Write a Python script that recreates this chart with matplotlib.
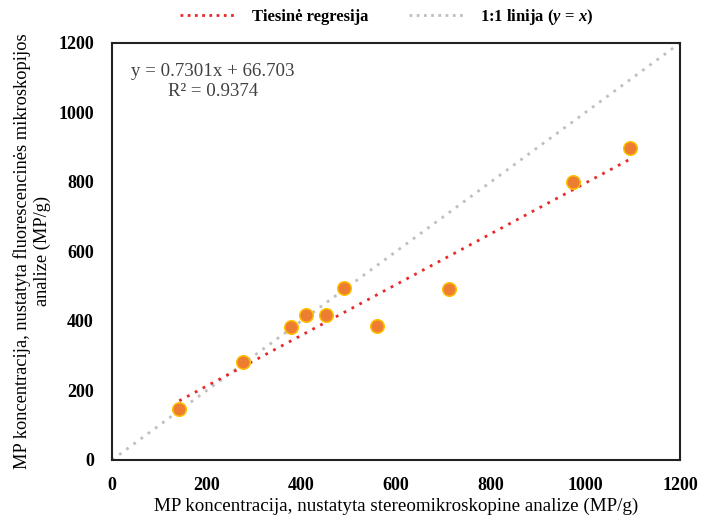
import numpy as np
import matplotlib
matplotlib.use("Agg")
import matplotlib.pyplot as plt
from matplotlib.lines import Line2D

plt.rcParams['font.family'] = ['Liberation Serif', 'DejaVu Serif']
plt.rcParams['mathtext.fontset'] = 'custom'
plt.rcParams['mathtext.it'] = 'Liberation Serif:italic:bold'
plt.rcParams['mathtext.rm'] = 'Liberation Serif:bold'

# Data (MP/g)
stereo = [142, 276, 378, 410, 452, 491, 560, 711, 974, 1094]
fluor = [147, 281, 382, 417, 417, 495, 385, 493, 800, 897]
slope = 0.7301
intercept = 66.703
ticks = [0, 200, 400, 600, 800, 1000, 1200]

fig = plt.figure(figsize=(7.03, 5.20), dpi=100)
ax = fig.add_axes([112/703, 1-460/520, (680-112)/703, (460-43)/520])

# 1:1 line
ax.plot([0, 1200], [0, 1200], linestyle=(0, (1, 2.2)), color='#bfbfbf', lw=2.0, zorder=1)
# regression line
xr = np.array([min(stereo), max(stereo)])
ax.plot(xr, slope * xr + intercept, linestyle=(0, (1, 2.2)), color='#e8292b', lw=2.0, zorder=2)
# points
ax.scatter(stereo, fluor, s=95, facecolor='#ED7D31', edgecolor='#FFC000', linewidth=1.1, zorder=3)

ax.set_xlim(0, 1200)
ax.set_ylim(0, 1200)
ax.set_xticks(ticks)
ax.set_yticks(ticks)
ax.tick_params(length=0, labelsize=13)
ax.tick_params(axis='y', pad=13)
ax.tick_params(axis='x', pad=12)
for lab in ax.get_xticklabels() + ax.get_yticklabels():
    lab.set_fontweight('bold')
for s in ax.spines.values():
    s.set_linewidth(1.5)
    s.set_color('#222222')

ax.set_xlabel('MP koncentracija, nustatyta stereomikroskopine analize (MP/g)', fontsize=13.7, labelpad=3)
ax.set_ylabel('MP koncentracija, nustatyta fluorescencinės mikroskopijos\nanalize (MP/g)',
              fontsize=13.2, labelpad=5, linespacing=1.25)

ax.text(0.178, 0.908, 'y = 0.7301x + 66.703\nR² = 0.9374', transform=ax.transAxes,
        fontsize=13.6, ha='center', va='center', color='#404040', linespacing=1.25,
        multialignment='center')

handles = [Line2D([], [], linestyle=(0, (1, 1.6)), color='#e8292b', lw=2.0),
           Line2D([], [], linestyle=(0, (1, 1.6)), color='#bfbfbf', lw=2.0)]
fig.legend(handles, ['Tiesinė regresija', r'1:1 linija ($y$ = $x$)'],
           loc='center', bbox_to_anchor=(387/703, 1-17/520), ncol=2, frameon=False,
           prop={'weight': 'bold', 'size': 12}, handlelength=3.3, columnspacing=2.4,
           handletextpad=1.0)

fig.savefig('out.png', dpi=100)
